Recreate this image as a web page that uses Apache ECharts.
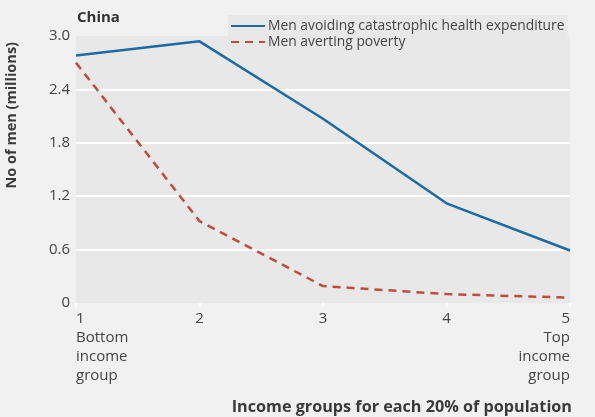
<!DOCTYPE html>
<html><head><meta charset="utf-8">
<script src="https://cdn.jsdelivr.net/npm/echarts@6/dist/echarts.min.js"></script>
<style>html,body{margin:0;padding:0;background:#f1f1f1;}#c{width:595px;height:417px;}</style>
</head><body><div id="c"></div>
<script>
const groups = [1, 2, 3, 4, 5];
const groupLabels = ['Bottom\nincome\ngroup', '', '', '', 'Top\nincome\ngroup'];
const avoidingCHE = [2.78, 2.94, 2.07, 1.12, 0.59];
const avertingPoverty = [2.70, 0.92, 0.19, 0.10, 0.06];
const yTicks = [0, 0.6, 1.2, 1.8, 2.4, 3.0];
const seriesNames = ['Men avoiding catastrophic health expenditure', 'Men averting poverty'];

const FONT = '"Open Sans", "Noto Sans", sans-serif';
const chart = echarts.init(document.getElementById('c'));
chart.setOption({
  backgroundColor: '#f1f1f1',
  animation: false,
  textStyle: { fontFamily: FONT, color: '#444' },
  title: { text: 'China', left: 72, top: 5, textStyle: { fontFamily: FONT, fontSize: 15, fontWeight: 'bold', color: '#333' } },
  legend: {
    left: 228, top: 15, orient: 'vertical', itemGap: 2, itemWidth: 34, itemHeight: 14,
    padding: [4, 3, 4, 2], backgroundColor: '#e8e8e8',
    itemStyle: { opacity: 0 },
    textStyle: { fontFamily: FONT, fontSize: 13.85, color: '#444', padding: [0, 0, 0, -2] },
    data: seriesNames
  },
  grid: { left: 76, right: 25, top: 36, bottom: 114, show: true, backgroundColor: '#e8e8e8', borderWidth: 0 },
  xAxis: {
    type: 'value', min: 1, max: 5, interval: 1,
    axisLine: { show: false },
    axisTick: { show: true, length: 4, lineStyle: { color: '#ffffff', width: 2 } },
    splitLine: { show: false },
    axisLabel: {
      fontSize: 15, color: '#444', margin: 6, lineHeight: 19,
      alignMinLabel: 'left', alignMaxLabel: 'right',
      formatter: v => { const i = groups.indexOf(v); const s = groupLabels[i]; return s ? v + '\n' + s : String(v); }
    },
    name: 'Income groups for each 20% of population', nameLocation: 'end', nameGap: 2,
    nameTextStyle: { fontFamily: FONT, fontSize: 16.2, fontWeight: 'bold', color: '#3a3a3a', align: 'right', verticalAlign: 'top', padding: [96, 0, 0, 0] }
  },
  yAxis: {
    type: 'value', min: 0, max: 3, interval: 0.6,
    axisLine: { show: false }, axisTick: { show: false },
    splitLine: { show: true, showMinLine: false, showMaxLine: false, lineStyle: { color: '#ffffff', width: 2 } },
    axisLabel: { fontSize: 15, color: '#444', margin: 6, formatter: v => v === 0 ? '0' : v.toFixed(1) },
    name: 'No of men (millions)', nameLocation: 'end', nameRotate: 90, nameGap: -6,
    nameTextStyle: { fontFamily: FONT, fontSize: 14.5, fontWeight: 'bold', color: '#3a3a3a', align: 'right', verticalAlign: 'bottom', padding: [0, 0, 57, 0] }
  },
  series: [
    { name: seriesNames[0], type: 'line', symbol: 'none', data: groups.map((g, i) => [g, avoidingCHE[i]]),
      lineStyle: { color: '#1d6aa5', width: 2.5 }, itemStyle: { color: '#1d6aa5' } },
    { name: seriesNames[1], type: 'line', symbol: 'none', data: groups.map((g, i) => [g, avertingPoverty[i]]),
      lineStyle: { color: '#c14b3f', width: 2.5, type: [8, 6] }, itemStyle: { color: '#c14b3f' } }
  ]
});
</script></body></html>
